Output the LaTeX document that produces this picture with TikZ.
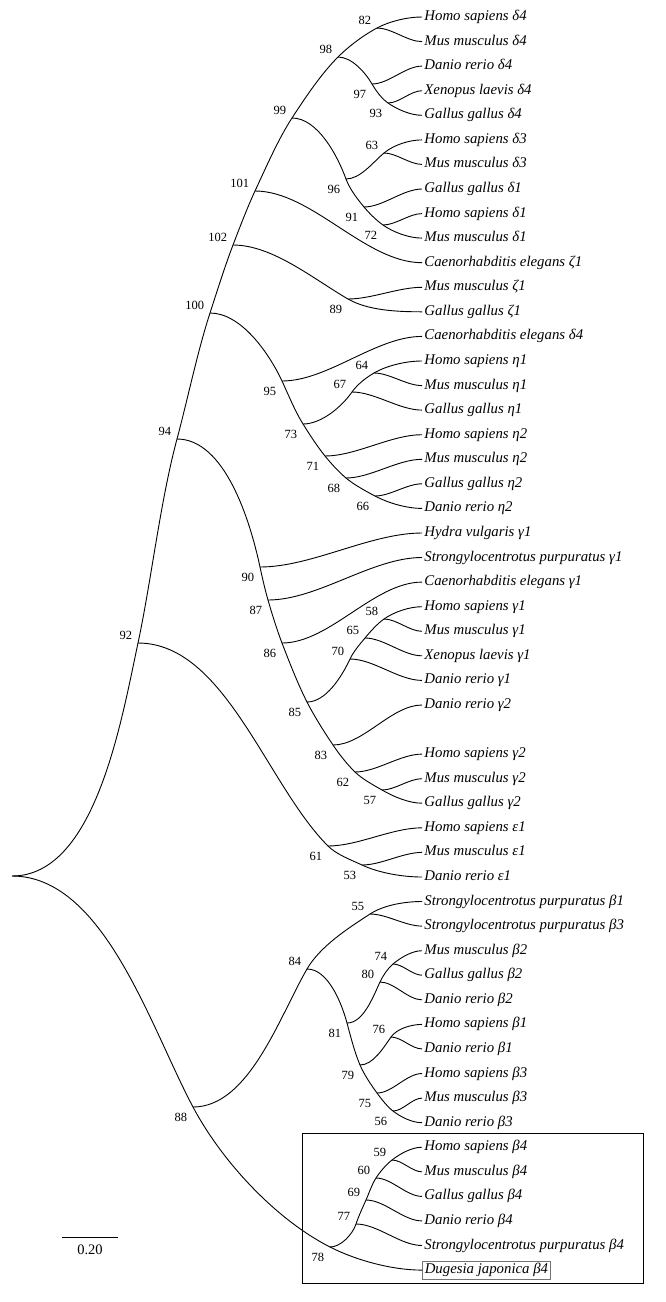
\documentclass[tikz,border=0pt]{standalone}
\usepackage{fontspec}
\setmainfont{Liberation Serif}
\tikzset{
  leaf/.style={anchor=west, inner sep=2pt, text height=10pt, text depth=3pt,
    font=\fontsize{14.8}{17}\selectfont\itshape},
  bsup/.style={anchor=south east, inner xsep=5.5pt, inner ysep=3.2pt,
    font=\fontsize{12.5}{14}\selectfont},
  bsdn/.style={anchor=north east, inner xsep=5.5pt, inner ysep=5.8pt,
    font=\fontsize{12.5}{14}\selectfont},
  twig/.style={out=0, in=180},
  scalelab/.style={below, inner sep=7pt, font=\fontsize{14.5}{16}\selectfont}
}
\begin{document}
\begin{tikzpicture}[x=1pt, y=-1pt, line width=0.9pt, looseness=0.8]
\useasboundingbox (0,0) rectangle (666,1302);

% leaves
\node[leaf] (hsd4) at (422,17.0) {Homo sapiens δ4};
\node[leaf] (mmd4) at (422,41.6) {Mus musculus δ4};
\node[leaf] (drd4) at (422,66.1) {Danio rerio δ4};
\node[leaf] (xld4) at (422,90.7) {Xenopus laevis δ4};
\node[leaf] (ggd4) at (422,115.3) {Gallus gallus δ4};
\node[leaf] (hsd3) at (422,139.9) {Homo sapiens δ3};
\node[leaf] (mmd3) at (422,164.4) {Mus musculus δ3};
\node[leaf] (ggd1) at (422,189.0) {Gallus gallus δ1};
\node[leaf] (hsd1) at (422,213.6) {Homo sapiens δ1};
\node[leaf] (mmd1) at (422,238.1) {Mus musculus δ1};
\node[leaf] (cez1) at (422,262.7) {Caenorhabditis elegans ζ1};
\node[leaf] (mmz1) at (422,287.3) {Mus musculus ζ1};
\node[leaf] (ggz1) at (422,311.8) {Gallus gallus ζ1};
\node[leaf] (ced4) at (422,336.4) {Caenorhabditis elegans δ4};
\node[leaf] (hsh1) at (422,361.0) {Homo sapiens η1};
\node[leaf] (mmh1) at (422,385.6) {Mus musculus η1};
\node[leaf] (ggh1) at (422,410.1) {Gallus gallus η1};
\node[leaf] (hsh2) at (422,434.7) {Homo sapiens η2};
\node[leaf] (mmh2) at (422,459.3) {Mus musculus η2};
\node[leaf] (ggh2) at (422,483.8) {Gallus gallus η2};
\node[leaf] (drh2) at (422,508.4) {Danio rerio η2};
\node[leaf] (hvg1) at (422,533.0) {Hydra vulgaris γ1};
\node[leaf] (spg1) at (422,557.5) {Strongylocentrotus purpuratus γ1};
\node[leaf] (ceg1) at (422,582.1) {Caenorhabditis elegans γ1};
\node[leaf] (hsg1) at (422,606.7) {Homo sapiens γ1};
\node[leaf] (mmg1) at (422,631.3) {Mus musculus γ1};
\node[leaf] (xlg1) at (422,655.8) {Xenopus laevis γ1};
\node[leaf] (drg1) at (422,680.4) {Danio rerio γ1};
\node[leaf] (drg2) at (422,705.0) {Danio rerio γ2};
\node[leaf] (hsg2) at (422,754.1) {Homo sapiens γ2};
\node[leaf] (mmg2) at (422,778.7) {Mus musculus γ2};
\node[leaf] (ggg2) at (422,803.2) {Gallus gallus γ2};
\node[leaf] (hse1) at (422,827.8) {Homo sapiens ε1};
\node[leaf] (mme1) at (422,852.4) {Mus musculus ε1};
\node[leaf] (dre1) at (422,877.0) {Danio rerio ε1};
\node[leaf] (spb1) at (422,901.5) {Strongylocentrotus purpuratus β1};
\node[leaf] (spb3) at (422,926.1) {Strongylocentrotus purpuratus β3};
\node[leaf] (mmb2) at (422,950.7) {Mus musculus β2};
\node[leaf] (ggb2) at (422,975.2) {Gallus gallus β2};
\node[leaf] (drb2) at (422,999.8) {Danio rerio β2};
\node[leaf] (hsb1) at (422,1024.4) {Homo sapiens β1};
\node[leaf] (drb1) at (422,1048.9) {Danio rerio β1};
\node[leaf] (hsb3) at (422,1073.5) {Homo sapiens β3};
\node[leaf] (mmb3) at (422,1098.1) {Mus musculus β3};
\node[leaf] (drb3) at (422,1122.7) {Danio rerio β3};
\node[leaf] (hsb4) at (422,1147.2) {Homo sapiens β4};
\node[leaf] (mmb4) at (422,1171.8) {Mus musculus β4};
\node[leaf] (ggb4) at (422,1196.4) {Gallus gallus β4};
\node[leaf] (drb4) at (422,1220.9) {Danio rerio β4};
\node[leaf] (spb4) at (422,1245.5) {Strongylocentrotus purpuratus β4};
\node[leaf, draw=black!55, line width=0.6pt, inner sep=2.5pt] (djb4) at (422,1270.1) {Dugesia japonica β4};

% internal nodes
\coordinate (root) at (12,876);
\coordinate (n92) at (138,643);
\coordinate (n94) at (177,439);
\coordinate (n100) at (210,313);
\coordinate (n102) at (233,245);
\coordinate (n101) at (255,191);
\coordinate (n99) at (292,118);
\coordinate (n98) at (338,57);
\coordinate (n82) at (377,28);
\coordinate (n97) at (372,84);
\coordinate (n93) at (388,103);
\coordinate (n96) at (346,179);
\coordinate (n63) at (384,153);
\coordinate (n91) at (364,207);
\coordinate (n72) at (383,225);
\coordinate (n89) at (348,299);
\coordinate (n95) at (282,381);
\coordinate (n73) at (303,424);
\coordinate (n67) at (352,392);
\coordinate (n64) at (374,373);
\coordinate (n71) at (325,456);
\coordinate (n68) at (346,478);
\coordinate (n66) at (375,496);
\coordinate (n90) at (260,567);
\coordinate (n87) at (268,600);
\coordinate (n86) at (282,643);
\coordinate (n85) at (307,702);
\coordinate (n70) at (350,659);
\coordinate (n65) at (365,638);
\coordinate (n58) at (384,619);
\coordinate (n83) at (333,745);
\coordinate (n62) at (355,772);
\coordinate (n57) at (382,790);
\coordinate (n61) at (328,846);
\coordinate (n53) at (362,865);
\coordinate (n88) at (193,1107);
\coordinate (n84) at (307,969);
\coordinate (n55) at (370,914);
\coordinate (n81) at (347,1023);
\coordinate (n80) at (380,982);
\coordinate (n74) at (393,964);
\coordinate (n79) at (360,1065);
\coordinate (n76) at (391,1037);
\coordinate (n75) at (377,1093);
\coordinate (n56) at (393,1111);
\coordinate (n78) at (330,1247);
\coordinate (n77) at (356,1224);
\coordinate (n69) at (366,1200);
\coordinate (n60) at (376,1178);
\coordinate (n59) at (392,1160);

% branches
\draw (root) to[out=0,in=258] (n92);
\draw (root) to[out=0,in=118] (n88);
\draw (n92) to[out=78,in=255] (n94);
\draw (n92) to[out=0,in=135] (n61);
\draw (n94) to[out=75,in=252] (n100);
\draw (n94) to[out=0,in=102] (n90);
\draw (n100) to[out=72,in=249] (n102);
\draw (n100) to[out=0,in=115] (n95);
\draw (n102) to[out=69,in=245] (n101);
\draw (n102) to[out=0,in=150] (n89);
\draw (n101) to[out=65,in=237] (n99);
\draw (n101) to[twig] (cez1.west);
\draw (n99) to[out=57,in=225] (n98);
\draw (n99) to[out=0,in=110] (n96);
\draw (n98) to[out=45,in=208] (n82);
\draw (n98) to[out=0,in=120] (n97);
\draw (n82) to[out=28,in=180] (hsd4.west);
\draw (n82) to[twig] (mmd4.west);
\draw (n97) to[out=-60,in=145] (n93);
\draw (n97) to[twig] (drd4.west);
\draw (n93) to[out=-35,in=180] (ggd4.west);
\draw (n93) to[twig] (xld4.west);
\draw (n96) to[out=-70,in=130] (n91);
\draw (n96) to[out=0,in=220] (n63);
\draw (n63) to[out=40,in=180] (hsd3.west);
\draw (n63) to[twig] (mmd3.west);
\draw (n91) to[out=-50,in=145] (n72);
\draw (n91) to[twig] (ggd1.west);
\draw (n72) to[out=-35,in=180] (mmd1.west);
\draw (n72) to[twig] (hsd1.west);
\draw (n89) to[out=-30,in=180] (ggz1.west);
\draw (n89) to[twig] (mmz1.west);
\draw (n95) to[out=-65,in=122] (n73);
\draw (n95) to[twig] (ced4.west);
\draw (n73) to[out=-58,in=129] (n71);
\draw (n73) to[out=0,in=235] (n67);
\draw (n67) to[out=55,in=210] (n64);
\draw (n67) to[twig] (ggh1.west);
\draw (n64) to[out=30,in=180] (hsh1.west);
\draw (n64) to[twig] (mmh1.west);
\draw (n71) to[out=-51,in=140] (n68);
\draw (n71) to[twig] (hsh2.west);
\draw (n68) to[out=-40,in=152] (n66);
\draw (n68) to[twig] (mmh2.west);
\draw (n66) to[out=-28,in=180] (drh2.west);
\draw (n66) to[twig] (ggh2.west);
\draw (n90) to[out=-78,in=106] (n87);
\draw (n90) to[twig] (hvg1.west);
\draw (n87) to[out=-74,in=111] (n86);
\draw (n87) to[twig] (spg1.west);
\draw (n86) to[out=-69,in=117] (n85);
\draw (n86) to[twig] (ceg1.west);
\draw (n85) to[out=-63,in=124] (n83);
\draw (n85) to[out=0,in=245] (n70);
\draw (n70) to[out=65,in=230] (n65);
\draw (n70) to[twig] (drg1.west);
\draw (n65) to[out=50,in=215] (n58);
\draw (n65) to[twig] (xlg1.west);
\draw (n58) to[out=35,in=180] (hsg1.west);
\draw (n58) to[twig] (mmg1.west);
\draw (n83) to[out=-56,in=136] (n62);
\draw (n83) to[twig] (drg2.west);
\draw (n62) to[out=-44,in=150] (n57);
\draw (n62) to[twig] (hsg2.west);
\draw (n57) to[out=-30,in=180] (ggg2.west);
\draw (n57) to[twig] (mmg2.west);
\draw (n61) to[out=-45,in=155] (n53);
\draw (n61) to[twig] (hse1.west);
\draw (n53) to[out=-25,in=180] (dre1.west);
\draw (n53) to[twig] (mme1.west);
\draw (n88) to[out=-62,in=153] (n78);
\draw (n88) to[out=0,in=240] (n84);
\draw (n84) to[out=60,in=213] (n55);
\draw (n84) to[out=0,in=105] (n81);
\draw (n55) to[out=33,in=180] (spb1.west);
\draw (n55) to[twig] (spb3.west);
\draw (n81) to[out=-75,in=113] (n79);
\draw (n81) to[out=0,in=245] (n80);
\draw (n80) to[out=65,in=220] (n74);
\draw (n80) to[twig] (drb2.west);
\draw (n74) to[out=40,in=180] (mmb2.west);
\draw (n74) to[twig] (ggb2.west);
\draw (n79) to[out=-67,in=126] (n75);
\draw (n79) to[out=0,in=235] (n76);
\draw (n76) to[out=55,in=180] (hsb1.west);
\draw (n76) to[twig] (drb1.west);
\draw (n75) to[out=-54,in=142] (n56);
\draw (n75) to[twig] (hsb3.west);
\draw (n56) to[out=-38,in=180] (drb3.west);
\draw (n56) to[twig] (mmb3.west);
\draw (n78) to[out=-27,in=180] (djb4.west);
\draw (n78) to[out=0,in=252] (n77);
\draw (n77) to[out=72,in=246] (n69);
\draw (n77) to[twig] (spb4.west);
\draw (n69) to[out=66,in=237] (n60);
\draw (n69) to[twig] (drb4.west);
\draw (n60) to[out=57,in=218] (n59);
\draw (n60) to[twig] (ggb4.west);
\draw (n59) to[out=38,in=180] (hsb4.west);
\draw (n59) to[twig] (mmb4.west);

% bootstrap values
\node[bsup] (s92) at (n92) {92};
\node[bsup] (s94) at (n94) {94};
\node[bsup] (s100) at (n100) {100};
\node[bsup] (s102) at (n102) {102};
\node[bsup] (s101) at (n101) {101};
\node[bsup] (s99) at (n99) {99};
\node[bsup] (s98) at (n98) {98};
\node[bsup] (s82) at (n82) {82};
\node[bsdn] (s97) at (n97) {97};
\node[bsdn] (s93) at (n93) {93};
\node[bsdn] (s96) at (n96) {96};
\node[bsup] (s63) at (n63) {63};
\node[bsdn] (s91) at (n91) {91};
\node[bsdn] (s72) at (n72) {72};
\node[bsdn] (s89) at (n89) {89};
\node[bsdn] (s95) at (n95) {95};
\node[bsdn] (s73) at (n73) {73};
\node[bsup] (s67) at (n67) {67};
\node[bsup] (s64) at (n64) {64};
\node[bsdn] (s71) at (n71) {71};
\node[bsdn] (s68) at (n68) {68};
\node[bsdn] (s66) at (n66) {66};
\node[bsdn] (s90) at (n90) {90};
\node[bsdn] (s87) at (n87) {87};
\node[bsdn] (s86) at (n86) {86};
\node[bsdn] (s85) at (n85) {85};
\node[bsup] (s70) at (n70) {70};
\node[bsup] (s65) at (n65) {65};
\node[bsup] (s58) at (n58) {58};
\node[bsdn] (s83) at (n83) {83};
\node[bsdn] (s62) at (n62) {62};
\node[bsdn] (s57) at (n57) {57};
\node[bsdn] (s61) at (n61) {61};
\node[bsdn] (s53) at (n53) {53};
\node[bsdn] (s88) at (n88) {88};
\node[bsup] (s84) at (n84) {84};
\node[bsup] (s55) at (n55) {55};
\node[bsdn] (s81) at (n81) {81};
\node[bsup] (s80) at (n80) {80};
\node[bsup] (s74) at (n74) {74};
\node[bsdn] (s79) at (n79) {79};
\node[bsup] (s76) at (n76) {76};
\node[bsdn] (s75) at (n75) {75};
\node[bsdn] (s56) at (n56) {56};
\node[bsdn] (s78) at (n78) {78};
\node[bsup] (s77) at (n77) {77};
\node[bsup] (s69) at (n69) {69};
\node[bsup] (s60) at (n60) {60};
\node[bsup] (s59) at (n59) {59};

% frame round the beta4 group
\draw[line width=0.7pt] (302,1133) rectangle (643,1283);

% scale bar
\coordinate (sb0) at (62,1237);
\coordinate (sb1) at (118,1237);
\draw (sb0) -- node[scalelab] (sbl) {0.20} (sb1);
\end{tikzpicture}
\end{document}
